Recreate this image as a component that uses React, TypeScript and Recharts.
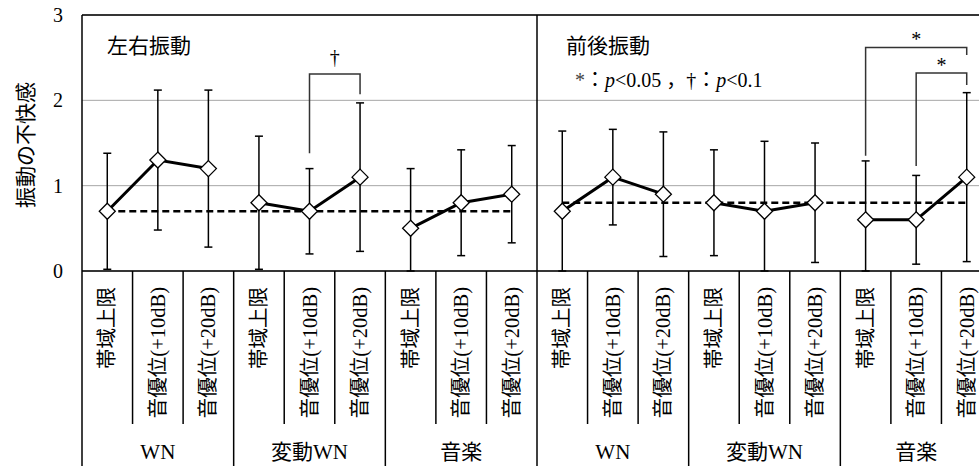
import React from 'react';
import {
  ComposedChart,
  Line,
  Scatter,
  ErrorBar,
  XAxis,
  YAxis,
  CartesianGrid,
  ReferenceLine,
  ReferenceDot,
} from 'recharts';

// ---------- data ----------
const panels = ['左右振動', '前後振動'];
const groups = ['WN', '変動WN', '音楽'];
const conditions = ['帯域上限', '音優位(+10dB)', '音優位(+20dB)'];

const means = [0.7, 1.3, 1.2, 0.8, 0.7, 1.1, 0.5, 0.8, 0.9, 0.7, 1.1, 0.9, 0.8, 0.7, 0.8, 0.6, 0.6, 1.1];
const sds = [0.68, 0.82, 0.92, 0.78, 0.5, 0.87, 0.7, 0.62, 0.57, 0.94, 0.56, 0.73, 0.62, 0.82, 0.7, 0.69, 0.52, 0.99];
const baselines = [0.7, 0.8];
const yTicks = [0, 1, 2, 3];

const brackets = [
  { from: 4, to: 5, top: 2.31, fromEnd: 1.38, toEnd: 2.07, mark: '†' },
  { from: 15, to: 17, top: 2.62, fromEnd: 1.35, toEnd: 2.53, mark: '*' },
  { from: 16, to: 17, top: 2.32, fromEnd: 1.23, toEnd: 2.18, mark: '*' },
];

const rows = means.map((m, i) => ({
  x: i,
  mean: m,
  // error bar clipped at the axis floor (0)
  err: [Math.min(sds[i], m), sds[i]],
  panel: Math.floor(i / 9),
  group: Math.floor(i / 3),
  cond: conditions[i % 3],
}));

// ticks: category centres (integers) and category boundaries (half-integers)
const axisTicks: number[] = [];
for (let i = 0; i <= rows.length; i++) {
  axisTicks.push(i - 0.5);
  if (i < rows.length) axisTicks.push(i);
}
const segIds = Array.from(new Set(rows.map((r) => r.group)));

const SERIF = "'Liberation Serif', 'Times New Roman', 'Noto Sans CJK JP', serif";
const GOTHIC = "'Noto Sans CJK JP', 'Noto Sans', sans-serif";

// ---------- render helpers ----------
const Diamond = (props: any) => {
  const { cx, cy } = props;
  if (cx == null || cy == null) return null;
  const r = 8;
  return (
    <polygon
      points={`${cx},${cy - r} ${cx + r},${cy} ${cx},${cy + r} ${cx - r},${cy}`}
      fill="#fff"
      stroke="#000"
      strokeWidth={1.3}
    />
  );
};

const AxisTick = (props: any) => {
  const { x, y, payload } = props;
  const v = payload.value as number;
  if (!Number.isInteger(v)) {
    const b = v + 0.5; // boundary index
    const isGroup = b % 3 === 0;
    return (
      <line x1={x} x2={x} y1={y} y2={y + (isGroup ? 200 : 153)} stroke="#000" strokeWidth={1.5} />
    );
  }
  const row = rows[v];
  if (!row) return null;
  const ly = y + 16;
  return (
    <g>
      <text
        x={x}
        y={ly}
        transform={`rotate(-90 ${x} ${ly})`}
        textAnchor="end"
        dominantBaseline="central"
        fontFamily={SERIF}
        fontSize={20.5}
        fill="#000"
      >
        {row.cond}
      </text>
      {v % 3 === 1 && (
        <text
          x={x}
          y={y + 181}
          textAnchor="middle"
          dominantBaseline="central"
          fontFamily={SERIF}
          fontSize={21}
          fill="#000"
        >
          {groups[row.group % groups.length]}
        </text>
      )}
    </g>
  );
};

const TitleLabel = (text: string, dx: number, dy: number) => (p: any) => {
  const vb = p.viewBox || {};
  return (
    <text x={vb.x + dx} y={vb.y + dy} fontFamily={GOTHIC} fontSize={21} fill="#000">
      {text}
    </text>
  );
};

const LegendLabel = (p: any) => {
  const vb = p.viewBox || {};
  return (
    <text x={vb.x + 38} y={vb.y + 72} fontFamily={SERIF} fontSize={20} fill="#000">
      <tspan fill="#444">*</tspan>
      <tspan fontFamily={GOTHIC}>：</tspan>
      <tspan fontStyle="italic">p</tspan>
      <tspan>{'<0.05 '}</tspan>
      <tspan fontFamily={GOTHIC}>，</tspan>
      <tspan>†</tspan>
      <tspan fontFamily={GOTHIC}>：</tspan>
      <tspan fontStyle="italic">p</tspan>
      <tspan>{'<0.1'}</tspan>
    </text>
  );
};

const MarkLabel = (mark: string, dy: number) => (p: any) => {
  const vb = p.viewBox || {};
  return (
    <text x={vb.x} y={vb.y + dy} textAnchor="middle" fontFamily={SERIF} fontSize={20} fill="#000">
      {mark}
    </text>
  );
};

const YTitle = (p: any) => {
  const vb = p.viewBox || {};
  const cx = 24;
  const cy = vb.y + vb.height / 2 + 2;
  return (
    <text
      x={cx}
      y={cy}
      transform={`rotate(-90 ${cx} ${cy})`}
      textAnchor="middle"
      dominantBaseline="central"
      fontFamily={GOTHIC}
      fontSize={21}
      fill="#000"
    >
      振動の不快感
    </text>
  );
};

export default function App() {
  return (
    <div
      style={{
        position: 'fixed',
        left: 0,
        top: 0,
        width: 979,
        height: 466,
        overflow: 'hidden',
        background: '#fff',
      }}
    >
      <ComposedChart
        width={1002}
        height={466}
        data={rows}
        margin={{ top: 15, right: 10, bottom: 0, left: 0 }}
      >
        <CartesianGrid vertical={false} stroke="#a6a6a6" strokeWidth={1} />
        <XAxis
          type="number"
          dataKey="x"
          domain={[-0.5, rows.length - 0.5]}
          allowDataOverflow
          ticks={axisTicks}
          interval={0}
          height={195}
          tickSize={0}
          tickMargin={0}
          tickLine={false}
          axisLine={{ stroke: '#000', strokeWidth: 1.5 }}
          tick={AxisTick}
        />
        <YAxis
          width={82}
          domain={[0, 3]}
          allowDataOverflow
          ticks={yTicks}
          interval={0}
          tickSize={0}
          tickMargin={19}
          tickLine={false}
          axisLine={{ stroke: '#000', strokeWidth: 1.5 }}
          tick={{ fill: '#000', fontSize: 20, fontFamily: SERIF }}
          label={{ content: YTitle }}
        />

        <ReferenceLine y={3} stroke="#000" strokeWidth={1.5} />
        <ReferenceLine x={8.5} stroke="#000" strokeWidth={1.5} />

        {baselines.map((b, p) => (
          <Line
            key={`base${p}`}
            name={`base${p}`}
            dataKey={(d: any) => (d.panel === p ? b : null)}
            stroke="#000"
            strokeWidth={2.5}
            strokeDasharray="7 4"
            dot={false}
            activeDot={false}
            isAnimationActive={false}
          />
        ))}

        {brackets.map((br, k) => (
          <Line
            key={`br${k}`}
            name={`br${k}`}
            data={[
              { x: br.from, y: br.fromEnd },
              { x: br.from, y: br.top },
              { x: br.to, y: br.top },
              { x: br.to, y: br.toEnd },
            ]}
            dataKey="y"
            stroke="#333"
            strokeWidth={1.5}
            dot={false}
            activeDot={false}
            isAnimationActive={false}
          />
        ))}

        {segIds.map((g) => (
          <Line
            key={`seg${g}`}
            name={`seg${g}`}
            dataKey={(d: any) => (d.group === g ? d.mean : null)}
            stroke="#000"
            strokeWidth={3}
            dot={false}
            activeDot={false}
            isAnimationActive={false}
          />
        ))}

        <Scatter dataKey="mean" shape={Diamond} isAnimationActive={false}>
          <ErrorBar dataKey="err" direction="y" width={4} stroke="#000" strokeWidth={1.5} />
        </Scatter>

        {brackets.map((br, k) => (
          <ReferenceDot
            key={`mk${k}`}
            x={(br.from + br.to) / 2}
            y={br.top}
            r={0}
            stroke="none"
            fill="none"
            label={{ content: MarkLabel(br.mark, br.mark === '†' ? -10 : -1) }}
          />
        ))}

        <ReferenceDot
          x={-0.5}
          y={3}
          r={0}
          stroke="none"
          fill="none"
          label={{ content: TitleLabel(panels[0], 25, 38) }}
        />
        <ReferenceDot
          x={8.5}
          y={3}
          r={0}
          stroke="none"
          fill="none"
          label={{ content: TitleLabel(panels[1], 29, 38) }}
        />
        <ReferenceDot x={8.5} y={3} r={0} stroke="none" fill="none" label={{ content: LegendLabel }} />
      </ComposedChart>
    </div>
  );
}
